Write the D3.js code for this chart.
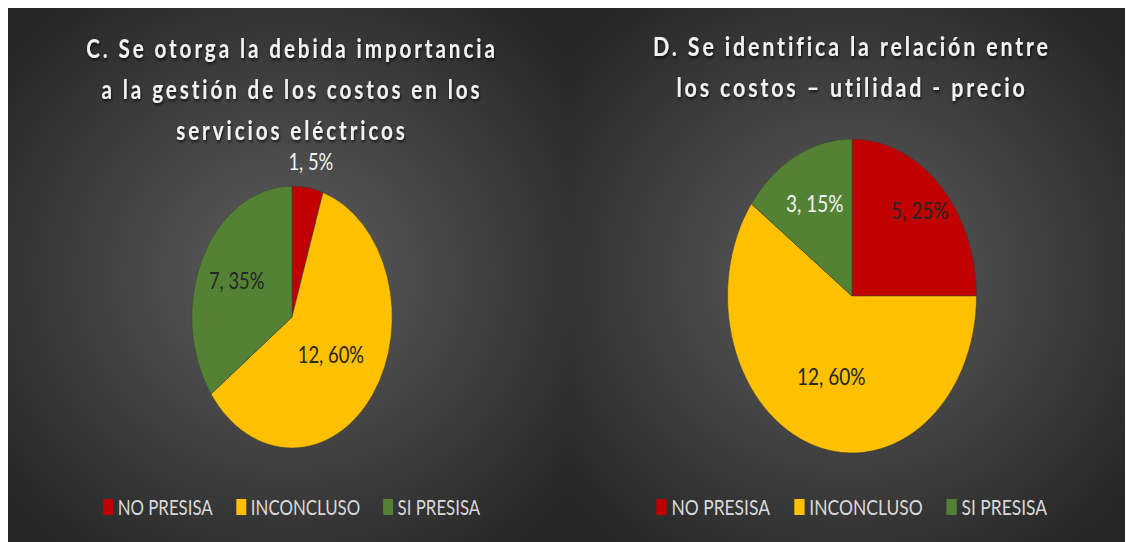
<html>
<head>
<style>
  body { margin: 0; background: #fff; }
  text { font-family: Lato, "Open Sans", sans-serif; }
</style>
</head>
<body>
<svg id="container" width="1127" height="542"></svg>
<script src="https://cdn.jsdelivr.net/npm/d3@7"></script>
<script>
    // data
    let categories = ["NO PRESISA", "INCONCLUSO", "SI PRESISA"]
    let sliceColors = ["#C00000", "#FFC000", "#548235"]

    let titleC = ["C. Se otorga la debida importancia", "a la gestión de los costos en los", "servicios eléctricos"]
    let valuesC = [1, 12, 7]

    let titleD = ["D. Se identifica la relación entre", "los costos \u2013 utilidad - precio"]
    let valuesD = [5, 12, 3]

    let svg = d3.select("#container")
    let defs = svg.append("defs")

    let shadow = defs.append("filter").attr("id", "shadow")
        .attr("x", "-10%").attr("y", "-30%").attr("width", "120%").attr("height", "160%")
    shadow.append("feDropShadow")
        .attr("dx", 1).attr("dy", 2).attr("stdDeviation", 1.5)
        .attr("flood-color", "#000").attr("flood-opacity", 0.7)

    let color = d3.scaleOrdinal().domain(categories).range(sliceColors)

    function drawPanel(cfg) {
        let grad = defs.append("radialGradient").attr("id", "bg" + cfg.id)
            .attr("cx", "50%").attr("cy", "50%").attr("r", "65%")
        grad.append("stop").attr("offset", "0%").attr("stop-color", "#5e5e5e")
        grad.append("stop").attr("offset", "100%").attr("stop-color", "#262626")

        svg.append("rect")
            .attr("x", cfg.x0).attr("y", 8)
            .attr("width", cfg.x1 - cfg.x0).attr("height", 542 - 8)
            .attr("fill", "url(#bg" + cfg.id + ")")

        // everything in the panel is drawn narrowed horizontally
        let g = svg.append("g")
            .attr("transform", `translate(${cfg.cx},0) scale(${cfg.sx},1)`)

        g.selectAll("text.title").data(cfg.title)
            .enter().append("text")
            .attr("class", "title")
            .attr("x", 0)
            .attr("y", (d, i) => cfg.titleY + i * 41)
            .attr("text-anchor", "middle")
            .attr("font-size", 27)
            .attr("font-weight", "bold")
            .attr("letter-spacing", cfg.titleSpacing)
            .attr("fill", "#f2f2f2")
            .attr("filter", "url(#shadow)")
            .text(d => d)

        let total = d3.sum(cfg.values)
        let data = cfg.values.map((v, i) => ({ cat: categories[i], value: v }))

        let pie = d3.pie().sort(null).value(d => d.value)
        let arcs = pie(data)
        let arc = d3.arc().innerRadius(0).outerRadius(cfg.r)

        let pieG = g.append("g").attr("transform", `translate(0,${cfg.cy})`)
        pieG.selectAll("path").data(arcs)
            .enter().append("path")
            .attr("d", arc)
            .attr("fill", d => color(d.data.cat))
            .attr("stroke", "#3a3a3a")
            .attr("stroke-width", 0.6)

        pieG.selectAll("text").data(arcs)
            .enter().append("text")
            .attr("transform", (d, i) => {
                let rr = cfg.r * cfg.labelR[i]
                let c = d3.arc().innerRadius(rr).outerRadius(rr).centroid(d)
                return `translate(${c[0]},${c[1]})`
            })
            .attr("text-anchor", "middle")
            .attr("dy", "0.36em")
            .attr("font-size", 24)
            .attr("fill", (d, i) => cfg.labelColor[i])
            .text(d => d.data.value + ", " + Math.round(d.data.value / total * 100) + "%")

        // legend
        let leg = g.append("g")
        let items = leg.selectAll("g").data(categories)
            .enter().append("g")
        items.append("rect")
            .attr("y", cfg.legendY - 16)
            .attr("width", 13).attr("height", 16)
            .attr("fill", d => color(d))
        items.append("text")
            .attr("x", 19)
            .attr("y", cfg.legendY)
            .attr("font-size", 22)
            .attr("fill", "#d9d9d9")
            .text(d => d)

        let x = 0
        items.each(function () {
            let w = this.getBBox().width
            d3.select(this).attr("transform", `translate(${x},0)`)
            x += w + 30
        })
        let legW = x - 30
        leg.attr("transform", `translate(${-legW / 2},0)`)
    }

    drawPanel({
        id: "C", x0: 8, x1: 569, cx: 292, cy: 317, r: 131, sx: 0.765,
        title: titleC, titleY: 58, titleSpacing: 3.8, values: valuesC, legendY: 515,
        labelR: [1.2, 0.48, 0.62],
        labelColor: ["#f2f2f2", "#262626", "#262626"]
    })

    drawPanel({
        id: "D", x0: 569, x1: 1125, cx: 852, cy: 296, r: 157, sx: 0.793,
        title: titleD, titleY: 56, titleSpacing: 3.6, values: valuesD, legendY: 515,
        labelR: [0.77, 0.54, 0.66],
        labelColor: ["#262626", "#262626", "#f2f2f2"]
    })
</script>
</body>
</html>
